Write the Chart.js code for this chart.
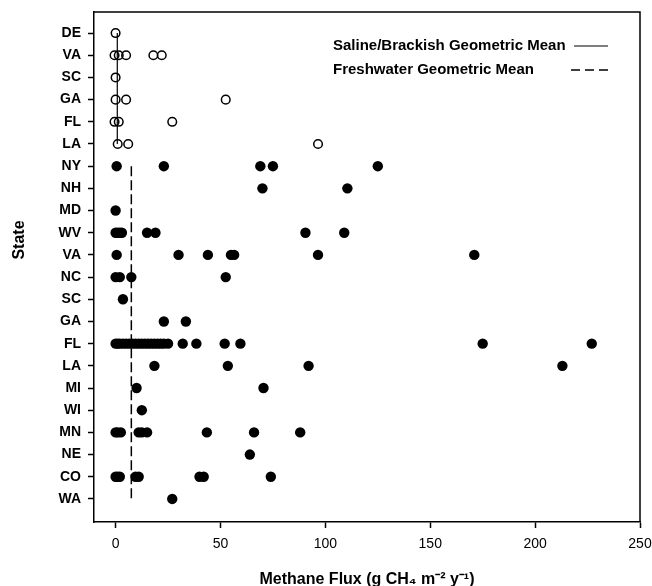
<!DOCTYPE html>
<html>
<head>
<meta charset="utf-8">
<script src="https://cdn.jsdelivr.net/npm/chart.js@4.4.0/dist/chart.umd.min.js"></script>
<style>
html, body { margin: 0; padding: 0; background: #fff; }
</style>
</head>
<body>
<canvas id="myChart" width="652" height="586"></canvas>
<script>
// rows top to bottom: saline/brackish sites first, then freshwater
const salineStates = ['DE', 'VA', 'SC', 'GA', 'FL', 'LA'];
const freshStates = ['NY', 'NH', 'MD', 'WV', 'VA', 'NC', 'SC', 'GA', 'FL', 'LA', 'MI', 'WI', 'MN', 'NE', 'CO', 'WA'];

const salineFlux = [
    [0],
    [-0.5, 1.5, 5, 18, 22],
    [0],
    [0, 5, 52.5],
    [-0.5, 1.5, 27],
    [1, 6, 96.5]
];

const freshFlux = [
    [0.5, 23, 69, 75, 125],
    [70, 110.5],
    [0],
    [0, 1, 2, 3, 15, 19, 90.5, 109],
    [0.5, 30, 44, 55, 56.5, 96.5, 171],
    [0, 2, 7.5, 52.5],
    [3.5],
    [23, 33.5],
    [0, 1, 2, 3.5, 5, 6.5, 8, 9.5, 11, 12.5, 14, 15.5, 17, 18.5, 20, 21.5, 23, 25, 32, 38.5, 52, 59.5, 175, 227],
    [18.5, 53.5, 92, 213],
    [10, 70.5],
    [12.5],
    [0, 1, 2.5, 11, 12.5, 15, 43.5, 66, 88],
    [64],
    [0, 1, 2, 9.5, 11, 40, 42, 74],
    [27]
];

const salineMean = 0.8;
const freshMean = 7.5;

const xTicks = [0, 50, 100, 150, 200, 250];
const legendLabels = ['Saline/Brackish Geometric Mean', 'Freshwater Geometric Mean'];
const xTitle = 'Methane Flux (g CH\u2084 m\u207B\u00B2 y\u207B\u00B9)';
const yTitle = 'State';

const stateLabels = salineStates.concat(freshStates);
const FONT = '"Liberation Sans", Arial, Helvetica, sans-serif';

// build points: y is the row index
var salinePts = [];
salineFlux.forEach(function(vals, i) {
    vals.forEach(function(v) { salinePts.push({x: v, y: i}); });
});
var freshPts = [];
freshFlux.forEach(function(vals, i) {
    vals.forEach(function(v) { freshPts.push({x: v, y: i + salineStates.length}); });
});
var lastRow = stateLabels.length - 1;

// frame, legend and y title drawn on top
const extrasPlugin = {
    id: 'extras',
    afterDraw(chart) {
        const ctx = chart.ctx;
        const a = chart.chartArea;
        ctx.save();
        ctx.strokeStyle = '#000';
        ctx.lineWidth = 1.5;
        ctx.beginPath();
        ctx.moveTo(a.left, a.top);
        ctx.lineTo(a.right, a.top);
        ctx.lineTo(a.right, a.bottom);
        ctx.stroke();

        // legend
        ctx.fillStyle = '#000';
        ctx.textBaseline = 'middle';
        ctx.textAlign = 'left';
        ctx.font = 'bold 15px ' + FONT;
        ctx.fillText(legendLabels[0], a.left + 239, a.top + 34);
        ctx.fillText(legendLabels[1], a.left + 239, a.top + 58);
        ctx.lineWidth = 1.2;
        ctx.beginPath();
        ctx.moveTo(a.left + 480, a.top + 34);
        ctx.lineTo(a.left + 514, a.top + 34);
        ctx.stroke();
        ctx.lineWidth = 1.4;
        ctx.setLineDash([9, 5]);
        ctx.beginPath();
        ctx.moveTo(a.left + 477, a.top + 58);
        ctx.lineTo(a.left + 514, a.top + 58);
        ctx.stroke();
        ctx.setLineDash([]);

        // y axis title
        ctx.translate(20, 240);
        ctx.rotate(-Math.PI / 2);
        ctx.textAlign = 'center';
        ctx.font = 'bold 16px ' + FONT;
        ctx.fillText(yTitle, 0, 0);
        ctx.restore();
    }
};

var ctx = document.getElementById('myChart').getContext('2d');
var chart = new Chart(ctx, {
    type: 'scatter',
    data: {
        datasets: [
            {
                label: 'Saline/Brackish',
                data: salinePts,
                pointStyle: 'circle',
                pointRadius: 4.3,
                pointBorderWidth: 1.5,
                borderColor: '#000',
                backgroundColor: 'rgba(255,255,255,0)'
            },
            {
                label: 'Freshwater',
                data: freshPts,
                pointStyle: 'circle',
                pointRadius: 5.2,
                pointBorderWidth: 0,
                borderColor: '#000',
                backgroundColor: '#000'
            },
            {
                label: legendLabels[0],
                data: [{x: salineMean, y: 0}, {x: salineMean, y: salineStates.length - 1}],
                showLine: true,
                pointRadius: 0,
                borderWidth: 1.2,
                borderColor: '#000'
            },
            {
                label: legendLabels[1],
                data: [{x: freshMean, y: salineStates.length}, {x: freshMean, y: lastRow}],
                showLine: true,
                pointRadius: 0,
                borderWidth: 1.5,
                borderDash: [10, 4],
                borderColor: '#000'
            }
        ]
    },
    options: {
        responsive: false,
        animation: false,
        layout: {
            padding: {top: 12, right: 12, left: 0, bottom: 0}
        },
        plugins: {
            legend: {display: false},
            tooltip: {enabled: false}
        },
        scales: {
            x: {
                type: 'linear',
                min: -10.3,
                max: 250,
                afterBuildTicks: function(scale) {
                    scale.ticks = xTicks.map(function(v) { return {value: v}; });
                },
                afterFit: function(scale) {
                    scale.height = 64;
                    scale.paddingLeft = 0;
                    scale.paddingRight = 0;
                },
                grid: {
                    drawOnChartArea: false,
                    tickLength: 6,
                    tickColor: '#000',
                    tickWidth: 1.5
                },
                border: {display: true, color: '#000', width: 1.5},
                ticks: {
                    color: '#000',
                    padding: 8,
                    maxRotation: 0,
                    font: {family: FONT, size: 14}
                },
                title: {
                    display: true,
                    text: xTitle,
                    color: '#000',
                    padding: {top: 0, bottom: -2},
                    font: {family: FONT, size: 16, weight: 'bold', lineHeight: 1}
                }
            },
            y: {
                type: 'linear',
                reverse: true,
                min: -0.95,
                max: lastRow + 1.04,
                afterBuildTicks: function(scale) {
                    scale.ticks = stateLabels.map(function(s, i) { return {value: i}; });
                },
                afterFit: function(scale) {
                    scale.width = 94;
                    scale.paddingTop = 0;
                    scale.paddingBottom = 0;
                },
                grid: {
                    drawOnChartArea: false,
                    tickLength: 6,
                    tickColor: '#000',
                    tickWidth: 1.5
                },
                border: {display: true, color: '#000', width: 1.5},
                ticks: {
                    color: '#000',
                    padding: 7,
                    autoSkip: false,
                    font: {family: FONT, size: 14, weight: 'bold'},
                    callback: function(value) { return stateLabels[value]; }
                }
            }
        }
    },
    plugins: [extrasPlugin]
});
</script>
</body>
</html>
